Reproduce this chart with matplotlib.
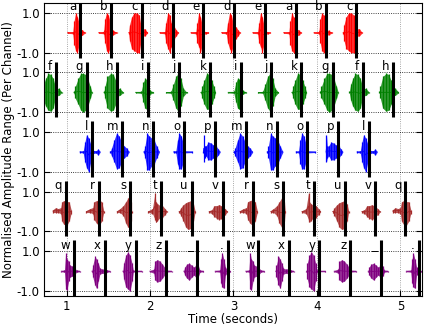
import numpy as np
import matplotlib
matplotlib.use("Agg")
import matplotlib.pyplot as plt

# times (s) of the black marker lines and the letter spoken before each one
red_times = [1.16, 1.53, 1.90, 2.27, 2.64, 3.01, 3.38, 3.75, 4.11, 4.47]
red_letters = ["a", "b", "c", "d", "e", "d", "e", "a", "b", "c"]
green_times = [0.87, 1.24, 1.61, 1.98, 2.35, 2.72, 3.09, 3.45, 3.81, 4.19, 4.55, 4.91]
green_letters = ["f", "g", "h", "i", "j", "k", "i", "j", "k", "g", "f", "h"]
blue_times = [1.31, 1.67, 2.04, 2.41, 2.78, 3.15, 3.52, 3.88, 4.25, 4.63]
blue_letters = ["l", "m", "n", "o", "p", "m", "n", "o", "p", "l"]
brown_times = [0.99, 1.39, 1.76, 2.13, 2.50, 2.87, 3.23, 3.60, 3.97, 4.34, 4.70, 5.06]
brown_letters = ["q", "r", "s", "t", "u", "v", "r", "s", "t", "u", "v", "q"]
purple_times = [1.09, 1.46, 1.83, 2.19, 2.56, 2.93, 3.30, 3.66, 4.03, 4.40, 4.77, 5.22]
purple_letters = ["w", "x", "y", "z", "_", ".", "w", "x", "y", "z", "_", "."]

# amplitude envelope of each recorded letter: offsets from the marker (s),
# upper amplitude, lower amplitude (magnitude)
envelopes = {
    "a": ([-0.148, -0.085, -0.07, -0.05, -0.03, -0.01, 0.0, 0.03, 0.06],
          [0.03, 0.05, 0.6, 1.0, 0.8, 0.5, 0.2, 0.15, 0.02],
          [0.03, 0.05, 0.6, 0.9, 1.0, 0.6, 0.2, 0.12, 0.02]),
    "b": ([-0.144, -0.085, -0.07, -0.05, -0.03, -0.01, 0.0, 0.03, 0.07],
          [0.03, 0.05, 0.7, 1.0, 0.9, 0.6, 0.15, 0.12, 0.02],
          [0.03, 0.05, 0.5, 0.9, 1.0, 0.8, 0.15, 0.1, 0.02]),
    "c": ([-0.155, -0.145, -0.12, -0.09, -0.06, -0.03, -0.01, 0.0, 0.04, 0.07],
          [0.05, 0.4, 0.8, 1.0, 1.0, 0.9, 0.4, 0.2, 0.2, 0.02],
          [0.05, 0.4, 0.8, 0.9, 1.0, 1.0, 0.5, 0.2, 0.15, 0.02]),
    "d": ([-0.152, -0.095, -0.08, -0.055, -0.035, -0.015, 0.0, 0.02, 0.045, 0.068],
          [0.03, 0.05, 0.5, 1.0, 0.9, 0.5, 0.3, 0.3, 0.15, 0.02],
          [0.03, 0.05, 0.5, 0.8, 1.0, 0.7, 0.3, 0.3, 0.15, 0.02]),
    "e": ([-0.148, -0.09, -0.075, -0.055, -0.035, -0.015, 0.0, 0.03, 0.06],
          [0.03, 0.05, 0.5, 1.0, 0.8, 0.4, 0.1, 0.05, 0.02],
          [0.03, 0.05, 0.5, 0.7, 1.0, 0.6, 0.1, 0.05, 0.02]),
    "f": ([-0.16, -0.145, -0.12, -0.09, -0.06, -0.03, -0.01, 0.0, 0.04, 0.072],
          [0.05, 0.4, 0.7, 0.95, 0.9, 0.7, 0.4, 0.2, 0.2, 0.02],
          [0.05, 0.4, 0.7, 0.9, 0.95, 0.8, 0.4, 0.2, 0.15, 0.02]),
    "g": ([-0.15, -0.135, -0.1, -0.07, -0.04, -0.01, 0.02, 0.045, 0.065],
          [0.05, 0.3, 0.7, 0.95, 0.95, 0.9, 0.6, 0.3, 0.02],
          [0.05, 0.3, 0.6, 0.9, 1.0, 0.9, 0.6, 0.3, 0.02]),
    "h": ([-0.16, -0.15, -0.12, -0.08, -0.05, -0.02, 0.0, 0.03, 0.068],
          [0.05, 0.3, 0.8, 0.95, 0.9, 0.6, 0.2, 0.2, 0.02],
          [0.05, 0.3, 0.8, 0.95, 0.9, 0.6, 0.2, 0.15, 0.02]),
    "i": ([-0.152, -0.085, -0.06, -0.04, -0.02, 0.0, 0.02, 0.06],
          [0.03, 0.05, 0.5, 0.7, 0.65, 0.5, 0.1, 0.02],
          [0.03, 0.05, 0.5, 0.8, 0.85, 0.6, 0.1, 0.02]),
    "j": ([-0.16, -0.1, -0.07, -0.04, -0.01, 0.02, 0.05, 0.088],
          [0.03, 0.05, 0.4, 0.8, 0.95, 0.7, 0.2, 0.02],
          [0.03, 0.05, 0.4, 0.8, 0.95, 0.7, 0.2, 0.02]),
    "k": ([-0.11, -0.095, -0.07, -0.04, -0.01, 0.02, 0.045, 0.065],
          [0.03, 0.3, 0.6, 0.95, 0.9, 0.6, 0.3, 0.02],
          [0.03, 0.3, 0.6, 0.85, 0.85, 0.6, 0.3, 0.02]),
    "l": ([-0.148, -0.11, -0.09, -0.07, -0.045, -0.02, 0.0, 0.04, 0.07, 0.092],
          [0.03, 0.05, 0.5, 0.87, 0.7, 0.4, 0.1, 0.05, 0.15, 0.02],
          [0.03, 0.05, 0.5, 0.8, 1.0, 0.5, 0.1, 0.05, 0.15, 0.02]),
    "m": ([-0.145, -0.13, -0.1, -0.07, -0.04, -0.01, 0.02, 0.05, 0.08],
          [0.03, 0.2, 0.6, 0.95, 0.8, 0.5, 0.3, 0.2, 0.02],
          [0.03, 0.2, 0.5, 0.85, 0.8, 0.5, 0.3, 0.2, 0.02]),
    "n": ([-0.115, -0.1, -0.075, -0.05, -0.02, 0.01, 0.04, 0.072],
          [0.03, 0.3, 0.95, 0.8, 0.7, 0.6, 0.3, 0.02],
          [0.03, 0.3, 0.9, 0.9, 0.7, 0.6, 0.3, 0.02]),
    "o": ([-0.128, -0.1, -0.08, -0.06, -0.035, -0.01, 0.0, 0.092],
          [0.03, 0.05, 0.6, 0.95, 0.8, 0.4, 0.05, 0.03],
          [0.03, 0.05, 0.6, 0.85, 0.85, 0.5, 0.05, 0.03]),
    "p": ([-0.14, -0.135, -0.125, -0.11, -0.08, -0.05, -0.02, 0.01, 0.04, 0.06],
          [0.03, 0.87, 0.3, 0.3, 0.5, 0.45, 0.35, 0.3, 0.15, 0.02],
          [0.03, 0.5, 0.3, 0.2, 0.4, 0.4, 0.3, 0.3, 0.15, 0.02]),
    "q": ([-0.152, -0.12, -0.09, -0.06, -0.045, -0.02, 0.01, 0.04, 0.065],
          [0.1, 0.2, 0.15, 0.2, 0.5, 0.55, 0.5, 0.5, 0.1],
          [0.05, 0.05, 0.05, 0.1, 0.5, 0.65, 0.7, 0.5, 0.1]),
    "r": ([-0.152, -0.11, -0.075, -0.06, -0.03, 0.0, 0.03, 0.056],
          [0.05, 0.15, 0.2, 0.5, 0.55, 0.6, 0.5, 0.05],
          [0.05, 0.05, 0.1, 0.4, 0.6, 0.7, 0.5, 0.05]),
    "s": ([-0.152, -0.12, -0.08, -0.05, -0.02, 0.0, 0.01, 0.02],
          [0.05, 0.15, 0.3, 0.5, 0.7, 0.95, 0.5, 0.05],
          [0.05, 0.05, 0.2, 0.6, 0.8, 0.85, 0.5, 0.05]),
    "t": ([-0.148, -0.1, -0.07, -0.06, -0.04, -0.01, 0.02, 0.05, 0.072],
          [0.05, 0.15, 0.95, 0.5, 0.4, 0.3, 0.3, 0.15, 0.03],
          [0.05, 0.1, 0.4, 0.55, 0.45, 0.3, 0.3, 0.15, 0.03]),
    "u": ([-0.15, -0.13, -0.1, -0.07, -0.04, -0.01, 0.02, 0.04],
          [0.05, 0.2, 0.35, 0.45, 0.5, 0.55, 0.4, 0.05],
          [0.05, 0.2, 0.5, 0.8, 0.9, 0.85, 0.5, 0.05]),
    "v": ([-0.16, -0.13, -0.1, -0.07, -0.04, -0.02, 0.0, 0.03, 0.056],
          [0.05, 0.1, 0.3, 0.3, 0.35, 0.3, 0.25, 0.15, 0.03],
          [0.05, 0.1, 0.25, 0.35, 0.4, 0.35, 0.25, 0.15, 0.03]),
    "w": ([-0.152, -0.115, -0.1, -0.085, -0.065, -0.05, -0.02, 0.0, 0.03, 0.068],
          [0.03, 0.05, 0.92, 0.6, 0.5, 0.3, 0.25, 0.2, 0.05, 0.03],
          [0.03, 0.05, 0.9, 0.96, 0.5, 0.3, 0.25, 0.2, 0.05, 0.03]),
    "x": ([-0.155, -0.145, -0.12, -0.1, -0.08, -0.06, -0.03, 0.0, 0.03, 0.06],
          [0.03, 0.3, 0.75, 0.6, 0.4, 0.15, 0.1, 0.15, 0.05, 0.03],
          [0.03, 0.3, 0.7, 0.87, 0.5, 0.15, 0.1, 0.15, 0.05, 0.03]),
    "y": ([-0.155, -0.145, -0.12, -0.095, -0.07, -0.045, -0.03, 0.0, 0.072],
          [0.03, 0.4, 0.8, 0.97, 0.8, 0.4, 0.05, 0.03, 0.03],
          [0.03, 0.4, 0.8, 0.9, 1.0, 0.5, 0.05, 0.03, 0.03]),
    "z": ([-0.192, -0.145, -0.13, -0.1, -0.07, -0.04, -0.015, 0.0, 0.068],
          [0.03, 0.1, 0.5, 0.58, 0.5, 0.35, 0.2, 0.05, 0.03],
          [0.03, 0.1, 0.45, 0.55, 0.5, 0.35, 0.2, 0.05, 0.03]),
    "_": ([-0.155, -0.145, -0.12, -0.09, -0.06, -0.035, -0.01, 0.02, 0.04, 0.08],
          [0.03, 0.2, 0.35, 0.4, 0.3, 0.2, 0.3, 0.25, 0.05, 0.03],
          [0.03, 0.2, 0.35, 0.45, 0.3, 0.2, 0.3, 0.25, 0.05, 0.03]),
    ".": ([-0.148, -0.095, -0.08, -0.065, -0.045, -0.025, 0.0, 0.032],
          [0.03, 0.05, 0.6, 0.92, 0.6, 0.2, 0.05, 0.03],
          [0.03, 0.05, 0.6, 0.8, 0.87, 0.2, 0.05, 0.03]),
}

channels = [
    (red_times, red_letters, "red"),
    (green_times, green_letters, "green"),
    (blue_times, blue_letters, "blue"),
    (brown_times, brown_letters, "brown"),
    (purple_times, purple_letters, "purple"),
]
spacing = 3.0
fs = 8.5

fig = plt.figure(figsize=(4.25, 3.26), dpi=100)
ax = fig.add_axes([0.1035, 0.092, 0.8895, 0.899])

yticks = []
ylabels = []
for k, (times, letters, col) in enumerate(channels):
    c = (len(channels) - 1 - k) * spacing
    for t, let in zip(times, letters):
        dt, top, bot = envelopes[let]
        x = t + np.array(dt)
        lo = c - np.array(bot)
        hi = c + np.array(top)
        # envelope fill, then saturated spikes at the read points
        ax.fill_between(x, lo, hi, color=col, lw=0, alpha=0.8)
        ax.vlines(x, lo, hi, color=col, lw=0.9)
        ax.plot(x, (lo + hi) / 2, color=col, lw=0.6)
        ax.vlines(t, c - 1.25, c + 1.55, color="k", lw=2.2, zorder=5)
        ax.text(t - 0.045, c + 1.13, let, ha="right", va="baseline", fontsize=fs)
    yticks += [c - 1, c + 1]
    ylabels += ["-1.0", "1.0"]

ax.set_xlim(0.73, 5.26)
ax.set_ylim(-1.25, 13.5)
ax.set_yticks(yticks)
ax.set_yticklabels(ylabels)
ax.set_xticks([1, 2, 3, 4, 5])
ax.tick_params(direction="in", length=4, labelsize=fs, right=True, pad=3)
ax.grid(True, color="k", linestyle=":", linewidth=0.6)
ax.xaxis.grid(True, color="0.55")
ax.set_axisbelow(True)
ax.set_xlabel("Time (seconds)", fontsize=fs, labelpad=0)
ax.set_ylabel("Normalised Amplitude Range (Per Channel)", fontsize=fs, labelpad=1)

plt.savefig("out.png", dpi=100)
